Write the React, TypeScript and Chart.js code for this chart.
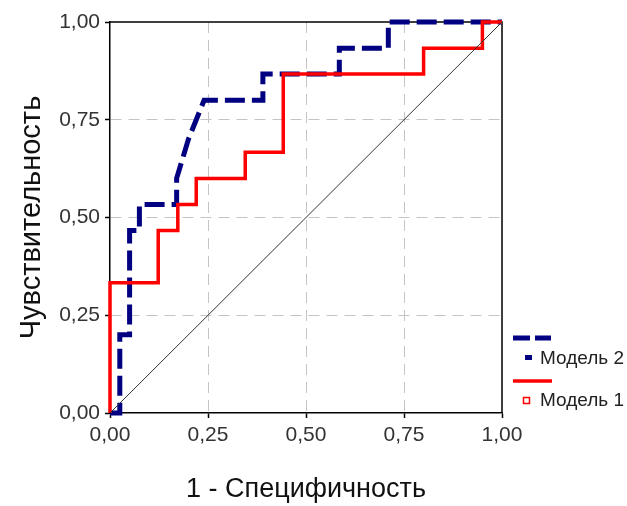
import React, { useEffect, useRef } from 'react';
import { Chart, registerables } from 'chart.js';

Chart.register(...registerables);

// ---- data ----
const tickValues = [0, 0.25, 0.5, 0.75, 1];

const model2Fpr = [0, 0.025, 0.025, 0.05, 0.05, 0.075, 0.075, 0.17, 0.17, 0.2, 0.24, 0.39, 0.39, 0.585, 0.585, 0.71, 0.71, 1];
const model2Tpr = [0, 0, 0.2, 0.2, 0.467, 0.467, 0.533, 0.533, 0.6, 0.7, 0.8, 0.8, 0.867, 0.867, 0.933, 0.933, 1, 1];

const model1Fpr = [0, 0, 0.123, 0.123, 0.173, 0.173, 0.22, 0.22, 0.345, 0.345, 0.442, 0.442, 0.8, 0.8, 0.95, 0.95, 1];
const model1Tpr = [0, 0.333, 0.333, 0.467, 0.467, 0.533, 0.533, 0.6, 0.6, 0.667, 0.667, 0.867, 0.867, 0.933, 0.933, 1, 1];

const diagonalFpr = [0, 1];
const diagonalTpr = [0, 1];

const legendLabels = ['Модель 2', 'Модель 1'];
const xTitle = '1 - Специфичность';
const yTitle = 'Чувствительность';

const FONT = "'Liberation Sans', Arial, sans-serif";
const BLUE = '#000080';
const RED = '#ff0000';

const toPoints = (xs: number[], ys: number[]) => xs.map((x, i) => ({ x, y: ys[i] }));
const fmt = (v: number) => v.toFixed(2).replace('.', ',');

const framePlugin = {
  id: 'frame',
  beforeDatasetsDraw(chart: any) {
    const { ctx, chartArea } = chart;
    ctx.save();
    ctx.strokeStyle = '#000';
    ctx.lineWidth = 1.5;
    ctx.beginPath();
    ctx.moveTo(chartArea.left, chartArea.top);
    ctx.lineTo(chartArea.right, chartArea.top);
    ctx.lineTo(chartArea.right, chartArea.bottom);
    ctx.stroke();
    ctx.restore();
  },
};

const legendPlugin = {
  id: 'customLegend',
  afterDraw(chart: any) {
    const { ctx } = chart;
    ctx.save();
    // Model 2 line sample
    ctx.strokeStyle = BLUE;
    ctx.lineWidth = 5;
    ctx.setLineDash([17, 5]);
    ctx.beginPath();
    ctx.moveTo(513, 338);
    ctx.lineTo(551, 338);
    ctx.stroke();
    ctx.setLineDash([]);
    ctx.fillStyle = BLUE;
    ctx.fillRect(525, 355, 7, 5);
    // Model 1 line sample
    ctx.strokeStyle = RED;
    ctx.lineWidth = 3.5;
    ctx.beginPath();
    ctx.moveTo(513, 381);
    ctx.lineTo(552, 381);
    ctx.stroke();
    ctx.lineWidth = 1.5;
    ctx.strokeRect(523.5, 397.5, 6, 6);
    // texts
    ctx.fillStyle = '#222';
    ctx.font = `19px ${FONT}`;
    ctx.textBaseline = 'middle';
    ctx.textAlign = 'left';
    ctx.fillText(legendLabels[0], 540, 359);
    ctx.fillText(legendLabels[1], 540, 401);
    ctx.restore();
  },
};

const gridColor = (c: any) => {
  const v = c.tick ? c.tick.value : null;
  return v === 0 || v === 1 ? 'rgba(0,0,0,0)' : '#c4c4c4';
};

export default function App() {
  const ref = useRef<HTMLCanvasElement | null>(null);

  useEffect(() => {
    if (!ref.current) return;
    const chart = new Chart(ref.current, {
      type: 'line',
      data: {
        datasets: [
          {
            label: 'diag',
            data: toPoints(diagonalFpr, diagonalTpr),
            borderColor: '#333',
            borderWidth: 1,
            pointRadius: 0,
            fill: false,
            tension: 0,
            order: 0,
            clip: false,
          },
          {
            label: legendLabels[1],
            data: toPoints(model1Fpr, model1Tpr),
            borderColor: RED,
            borderWidth: 3.5,
            pointRadius: 0,
            fill: false,
            tension: 0,
            order: 1,
            clip: false,
          },
          {
            label: legendLabels[0],
            data: toPoints(model2Fpr, model2Tpr),
            borderColor: BLUE,
            borderWidth: 5,
            borderDash: [20, 7],
            borderCapStyle: 'butt',
            pointRadius: 0,
            fill: false,
            tension: 0,
            order: 2,
            clip: false,
          },
        ] as any,
      },
      options: {
        animation: false,
        responsive: false,
        devicePixelRatio: 1,
        layout: { padding: { top: 22, right: 125, left: 0, bottom: 0 } },
        plugins: { legend: { display: false }, tooltip: { enabled: false } },
        scales: {
          x: {
            type: 'linear',
            min: 0,
            max: 1,
            afterBuildTicks: (s: any) => {
              s.ticks = tickValues.map((v) => ({ value: v }));
            },
            afterFit: (s: any) => {
              s.height = 93;
            },
            ticks: {
              callback: (v: any) => fmt(Number(v)),
              font: { family: FONT, size: 21 },
              color: '#333',
              padding: 5,
              maxRotation: 0,
              autoSkip: false,
            },
            grid: { color: gridColor, lineWidth: 1, tickColor: '#000', tickLength: 5, tickWidth: 1.5 },
            border: { color: '#000', width: 1.5, dash: [11, 7] },
            title: {
              display: true,
              text: xTitle,
              font: { family: FONT, size: 27 },
              color: '#111',
              padding: { top: 0, bottom: 0 },
            },
          },
          y: {
            type: 'linear',
            min: 0,
            max: 1,
            afterBuildTicks: (s: any) => {
              s.ticks = tickValues.map((v) => ({ value: v }));
            },
            afterFit: (s: any) => {
              s.width = 110;
            },
            ticks: {
              callback: (v: any) => fmt(Number(v)),
              font: { family: FONT, size: 21 },
              color: '#333',
              padding: 5,
              autoSkip: false,
            },
            grid: { color: gridColor, lineWidth: 1, tickColor: '#000', tickLength: 5, tickWidth: 1.5 },
            border: { color: '#000', width: 1.5, dash: [11, 7] },
            title: {
              display: true,
              text: yTitle,
              font: { family: FONT, size: 29 },
              color: '#111',
              padding: { top: 15, bottom: 0 },
            },
          },
        },
      } as any,
      plugins: [framePlugin, legendPlugin],
    });
    return () => chart.destroy();
  }, []);

  return (
    <div style={{ position: 'absolute', left: 0, top: 0, width: 627, height: 506, background: '#fff' }}>
      <canvas ref={ref} width={627} height={506} />
    </div>
  );
}
